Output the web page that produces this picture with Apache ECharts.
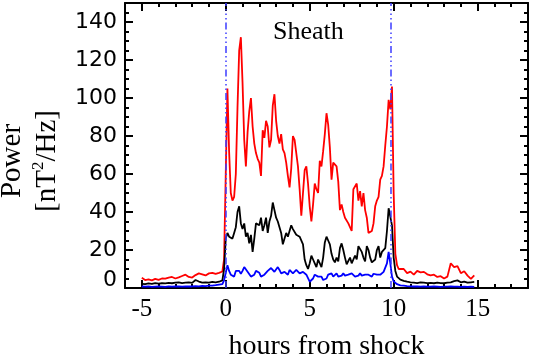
<!DOCTYPE html>
<html>
<head>
<meta charset="utf-8">
<script src="https://cdn.jsdelivr.net/npm/echarts@6/dist/echarts.min.js"></script>
<style>
  html, body { margin: 0; padding: 0; background: #fff; }
  #chart { width: 533px; height: 358px; }
</style>
</head>
<body>
<div id="chart"></div>
<script>
// Wave power around the shock: red / black / blue traces, sheath bounded by two dash-dot lines.

// hours from shock: 0.2 h steps outside the sheath, 0.1 h steps inside it
const hours = [
  -5, -4.8, -4.6, -4.4, -4.2, -4, -3.8, -3.6, -3.4, -3.2, -3, -2.8,
  -2.6, -2.4, -2.2, -2, -1.8, -1.6, -1.4, -1.2, -1, -0.8, -0.6, -0.4,
  -0.2, -0.1,
  0, 0.1, 0.2, 0.3, 0.4, 0.5, 0.6, 0.7, 0.8, 0.9,
  1, 1.1, 1.2, 1.3, 1.4, 1.5, 1.6, 1.7, 1.8, 1.9,
  2, 2.1, 2.2, 2.3, 2.4, 2.5, 2.6, 2.7, 2.8, 2.9,
  3, 3.1, 3.2, 3.3, 3.4, 3.5, 3.6, 3.7, 3.8, 3.9,
  4, 4.1, 4.2, 4.3, 4.4, 4.5, 4.6, 4.7, 4.8, 4.9,
  5, 5.1, 5.2, 5.3, 5.4, 5.5, 5.6, 5.7, 5.8, 5.9,
  6, 6.1, 6.2, 6.3, 6.4, 6.5, 6.6, 6.7, 6.8, 6.9,
  7, 7.1, 7.2, 7.3, 7.4, 7.5, 7.6, 7.7, 7.8, 7.9,
  8, 8.1, 8.2, 8.3, 8.4, 8.5, 8.6, 8.7, 8.8, 8.9,
  9, 9.1, 9.2, 9.3, 9.4, 9.5, 9.6, 9.7, 9.8, 9.9,
  10, 10.1, 10.2, 10.3, 10.4,
  10.6, 10.8, 11, 11.2, 11.4, 11.6, 11.8, 12, 12.2, 12.4, 12.6,
  12.8, 13, 13.2, 13.4, 13.6, 13.8, 14, 14.2, 14.4, 14.6, 14.8
]

const redPower = [
  5.4, 4.2, 4.5, 4.0, 4.8, 4.3, 5.0, 4.9, 5.5, 5.8, 5.0, 5.6,
  6.3, 7.0, 5.8, 5.5, 6.8, 7.7, 7.2, 6.6, 7.7, 8.0, 7.4, 8.0,
  8.7, 15,
  60, 105, 72, 50, 46, 48, 60, 95, 125, 132,
  108, 78, 64, 82, 93, 100, 85, 76, 71, 68,
  66, 59, 83, 79, 88, 85, 74, 78, 96, 102,
  88, 80, 76, 81, 73, 71, 66, 59, 53, 63,
  80, 78, 77, 64, 52, 38, 37, 62, 64, 55,
  43, 35, 44, 55, 52, 50, 67, 64, 72, 81,
  92, 86, 74, 57, 66, 66, 64, 56, 41, 44,
  40, 37, 37, 34, 33, 30, 52, 51, 55, 46,
  51, 43, 50, 41, 37, 29, 28, 30, 34, 43,
  46, 48, 57, 59, 64, 75, 85, 99, 94, 106,
  50, 18, 12, 10, 9.5,
  10, 7.8, 8.6, 7.0, 9.0, 8.2, 8.5, 7.2, 6.6, 7.0, 5.8,
  6.2, 5.0, 6.0, 13, 11, 11.5, 7.8, 8.8, 6.5, 4.8, 6.7
]

const blackPower = [
  2.2, 2.0, 2.4, 2.2, 2.6, 2.3, 2.5, 2.4, 2.7, 2.5, 2.8, 3.0,
  2.6, 2.8, 3.0, 2.7, 4.2, 3.4, 2.8, 3.0, 2.8, 3.2, 3.0, 3.3,
  4, 10,
  26, 29, 27, 26, 26, 29, 32, 40, 43, 34,
  31, 34, 27, 29, 23.5, 28, 19, 26, 34, 35,
  33, 37, 30, 33, 37, 29, 35, 38, 45, 41,
  37, 35, 32, 29, 23, 26, 29, 27, 30, 33,
  31, 31, 28, 29, 27, 26, 23, 15, 12, 10,
  13, 17, 15, 13, 11, 15, 14, 11, 16, 24,
  27, 25, 23, 18, 15, 13.5, 16, 14, 21, 23.5,
  20, 16, 12.5, 12, 16, 13, 15, 17, 15, 22,
  21, 19, 16, 14, 22, 20, 16, 13.5, 12.5, 15,
  20, 22, 16, 19, 18, 21, 30, 42, 41, 33,
  16, 9, 6, 5, 4.4,
  3.8, 3.3, 3.0, 2.8, 2.6, 3.0, 2.8, 2.6, 2.7, 2.5, 2.8,
  2.6, 2.5, 2.8, 3.0, 3.6, 4.0, 3.0, 3.4, 2.8, 3.0, 3.2
]

const bluePower = [
  0.8, 0.7, 0.8, 0.6, 0.7, 0.8, 0.7, 0.6, 0.8, 0.7, 0.8, 0.9,
  0.7, 0.8, 0.9, 0.8, 1.0, 0.9, 1.1, 1.0, 1.2, 1.3, 1.5, 1.8,
  2.0, 4,
  8, 12, 9, 7, 7.5, 6, 9, 8, 9, 7.5,
  9, 11, 10, 8.5, 7.7, 6, 5, 7, 9, 9.5,
  8, 6, 5, 7, 8, 9, 9.6, 10.5, 9.5, 8.5,
  7.7, 11, 9.5, 7.7, 7, 8.5, 7.7, 7, 9.5, 8.5,
  7.7, 7, 9.5, 8.5, 7.7, 7, 8.5, 7.7, 7, 6,
  3.3, 4.2, 5, 7, 7.7, 6, 7, 6, 4.2, 3.3,
  5, 7, 7, 7.7, 6, 7, 7.7, 6, 7, 6.5,
  7.7, 6.5, 6, 7, 6.5, 7.7, 7, 6, 7, 6.5,
  7.7, 6.5, 6, 7, 6, 7, 6.5, 6, 7.5, 6.5,
  7, 8, 7, 8, 8.5, 9, 13, 19, 13, 6,
  3.5, 2.5, 2, 1.6, 1.4,
  1.2, 1.0, 0.9, 0.8, 0.8, 0.7, 0.8, 0.7, 0.7, 0.8, 0.7,
  0.6, 0.7, 0.7, 0.8, 0.7, 0.7, 0.6, 0.7, 0.6, 0.7, 0.6
]

// shock and end of sheath
const shockLines = [0, 9.8]
const xMajorTicks = [-5, 0, 5, 10, 15]
const yMajorTicks = [0, 20, 40, 60, 80, 100, 120, 140]

const SERIF = '"Liberation Serif", "Times New Roman", serif'
const SANS = '"DejaVu Sans", sans-serif'
const X_RANGE = { min: -6, max: 18 }
const Y_RANGE = { min: 0, max: 150 }

const chart = echarts.init(document.getElementById('chart'), null, { renderer: 'canvas' })

const tickStyle = { color: '#000', width: 2 }
const frameLine = { show: true, onZero: false, lineStyle: { color: '#000', width: 2 } }

// IDL-style frame: minor ticks on one axis, major ticks (custom values) on a twin axis
function xFrame(position, withLabels) {
  const minor = {
    type: 'value', position, ...X_RANGE, interval: 1,
    axisLine: frameLine,
    axisTick: { show: true, inside: true, length: 4, lineStyle: tickStyle },
    axisLabel: { show: false },
    splitLine: { show: false },
  }
  const major = {
    type: 'value', position, ...X_RANGE,
    axisLine: { show: false, onZero: false },
    axisTick: { show: true, inside: true, length: 8, customValues: xMajorTicks, lineStyle: tickStyle },
    axisLabel: withLabels
      ? { show: true, customValues: xMajorTicks, color: '#000', fontFamily: SERIF, fontSize: 25, margin: 9 }
      : { show: false },
    splitLine: { show: false },
  }
  if (withLabels) {
    Object.assign(major, {
      name: 'hours from shock',
      nameLocation: 'middle',
      nameGap: 45,
      nameTextStyle: { color: '#000', fontFamily: SERIF, fontSize: 28 },
    })
  }
  return [minor, major]
}

function yFrame(position, withLabels) {
  const minor = {
    type: 'value', position, ...Y_RANGE, interval: 5,
    axisLine: frameLine,
    axisTick: { show: true, inside: true, length: 4, lineStyle: tickStyle },
    axisLabel: { show: false },
    splitLine: { show: false },
  }
  const major = {
    type: 'value', position, ...Y_RANGE,
    axisLine: { show: false, onZero: false },
    axisTick: { show: true, inside: true, length: 8, customValues: yMajorTicks, lineStyle: tickStyle },
    axisLabel: withLabels
      ? {
          show: true,
          customValues: yMajorTicks,
          color: '#000',
          fontFamily: SANS,
          fontSize: 22,
          margin: 8,
          // the zero label sits a little above the x axis in the original
          formatter: (v) => (v === 0 ? '{z|0}' : String(v)),
          rich: { z: { fontFamily: SANS, fontSize: 22, color: '#000', padding: [0, 0, 16, 0] } },
        }
      : { show: false },
    splitLine: { show: false },
  }
  return [minor, major]
}

function line(name, values, color, extra) {
  return {
    name,
    type: 'line',
    xAxisIndex: 0,
    yAxisIndex: 0,
    data: hours.map((h, i) => [h, values[i]]),
    showSymbol: false,
    symbol: 'none',
    lineStyle: { color, width: 1.8 },
    z: 3,
    ...extra,
  }
}

chart.setOption({
  animation: false,
  backgroundColor: '#fff',
  grid: { left: 125, right: 5, top: 3, bottom: 70, containLabel: false, outerBoundsMode: 'none' },
  xAxis: [...xFrame('bottom', true), ...xFrame('top', false)],
  yAxis: [...yFrame('left', true), ...yFrame('right', false)],
  series: [
    line('red', redPower, '#ff0000'),
    line('black', blackPower, '#000000'),
    line('blue', bluePower, '#0000ff', {
      markLine: {
        silent: true,
        symbol: 'none',
        label: { show: false },
        lineStyle: { color: '#3c3cff', width: 1.5, type: [7, 3, 1.5, 3, 1.5, 3, 1.5, 3] },
        data: shockLines.map((x) => ({ xAxis: x })),
      },
    }),
  ],
  graphic: [
    {
      type: 'text',
      left: 273,
      top: 19,
      style: { text: 'Sheath', fill: '#000', font: '26px ' + SERIF },
    },
    {
      type: 'text',
      x: 30,
      y: 161,
      rotation: Math.PI / 2,
      style: {
        text: '{a|Power}\n{a|[nT}{s|2}{a|/Hz]}',
        align: 'center',
        verticalAlign: 'middle',
        rich: {
          a: { fontFamily: SERIF, fontSize: 29, lineHeight: 35, fill: '#000' },
          s: { fontFamily: SERIF, fontSize: 17, lineHeight: 35, verticalAlign: 'top', fill: '#000' },
        },
      },
    },
  ],
})
</script>
</body>
</html>
